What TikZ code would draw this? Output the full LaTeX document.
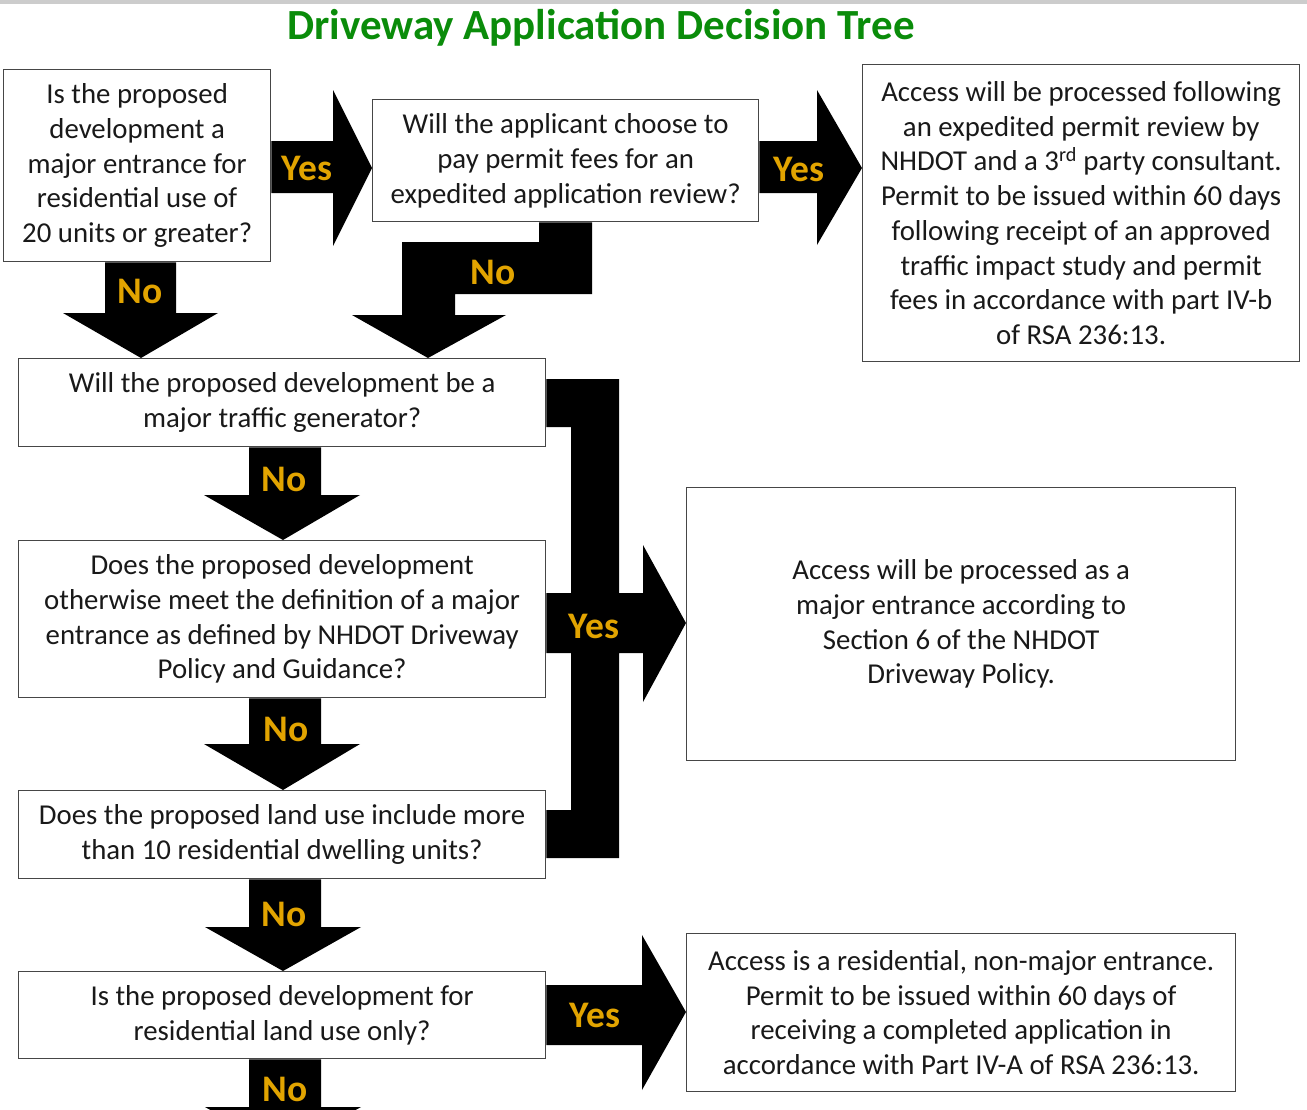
\documentclass[tikz,border=0pt]{standalone}
\usepackage{fontspec}
\setmainfont{Carlito}
\definecolor{titlegreen}{RGB}{10,140,10}
\definecolor{labelgold}{RGB}{226,164,0}
\definecolor{boxline}{RGB}{70,70,70}
\tikzset{
  box/.style={draw=boxline, line width=1.3pt, fill=white, anchor=north west, align=center,
    inner sep=2pt, font=\fontsize{28.8}{34.7}\selectfont, text=black!90},
  blockarrow/.style={fill=black},
  lbl/.style={font=\bfseries\fontsize{37.5}{37.5}\selectfont, text=labelgold, inner sep=0pt}
}
\begin{document}
\begin{tikzpicture}[x=1pt,y=-1pt]
\useasboundingbox (0,0) rectangle (1307,1109);
\clip (0,0) rectangle (1307,1109);
\fill[black!20] (0,0) rectangle (1307,4);
\node[font=\bfseries\fontsize{43}{46}\selectfont, text=titlegreen] (title) at (601,28) {Driveway Application Decision Tree};

% boxes
\node[box, minimum width=267, minimum height=192] (A) at (3,69)
  {Is the proposed\\development a\\major entrance for\\residential use of\\20 units or greater?};
\node[box, minimum width=386, minimum height=122] (B) at (372,99)
  {Will the applicant choose to\\pay permit fees for an\\expedited application review?};
\node[box, minimum width=437, minimum height=297] (C) at (862,64)
  {Access will be processed following\\an expedited permit review by\\NHDOT and a 3\textsuperscript{rd} party consultant.\\Permit to be issued within 60 days\\following receipt of an approved\\traffic impact study and permit\\fees in accordance with part IV-b\\of RSA 236:13.};
\node[box, minimum width=527, minimum height=88] (D) at (18,358)
  {Will the proposed development be a\\major traffic generator?};
\node[box, minimum width=527, minimum height=157] (E) at (18,540)
  {Does the proposed development\\otherwise meet the definition of a major\\entrance as defined by NHDOT Driveway\\Policy and Guidance?};
\node[box, minimum width=549, minimum height=273] (F) at (686,487)
  {Access will be processed as a\\major entrance according to\\Section 6 of the NHDOT\\Driveway Policy.};
\node[box, minimum width=527, minimum height=88] (G) at (18,790)
  {Does the proposed land use include more\\than 10 residential dwelling units?};
\node[box, minimum width=527, minimum height=87] (H) at (18,971)
  {Is the proposed development for\\residential land use only?};
\node[box, minimum width=549, minimum height=158] (I) at (686,933)
  {Access is a residential, non-major entrance.\\Permit to be issued within 60 days of\\receiving a completed application in\\accordance with Part IV-A of RSA 236:13.};

% Yes A -> B
\fill[blockarrow] (A.east |- 0,141) -- (333,141) -- (333,90) -- (B.west |- 0,168)
  -- (333,246) -- (333,193) -- (A.east |- 0,193) -- cycle;
\node[lbl] (yAB) at (307,168) {Yes};
% Yes B -> C
\fill[blockarrow] (B.east |- 0,141) -- (817,141) -- (817,90) -- (C.west |- 0,168)
  -- (817,245) -- (817,193) -- (B.east |- 0,193) -- cycle;
\node[lbl] (yBC) at (799,169) {Yes};
% No A -> D
\fill[blockarrow] (105,0 |- A.south) -- (176,0 |- A.south) -- (176,313) -- (218,313)
  -- (141,0 |- D.north) -- (63,313) -- (105,313) -- cycle;
\node[lbl] (nAD) at (140,291) {No};
% No B -> D (bent)
\fill[blockarrow] (539,0 |- B.south) -- (592,0 |- B.south) -- (592,294) -- (455,294)
  -- (455,315) -- (506,315) -- (428,0 |- D.north) -- (352,315) -- (402,315)
  -- (402,242) -- (539,242) -- cycle;
\node[lbl] (nBD) at (493,272) {No};
% No D -> E
\fill[blockarrow] (249,0 |- D.south) -- (321,0 |- D.south) -- (321,495) -- (360,495)
  -- (283,0 |- E.north) -- (204,495) -- (249,495) -- cycle;
\node[lbl] (nDE) at (284,479) {No};
% No E -> G
\fill[blockarrow] (249,0 |- E.south) -- (321,0 |- E.south) -- (321,744) -- (360,744)
  -- (283,0 |- G.north) -- (204,744) -- (249,744) -- cycle;
\node[lbl] (nEG) at (286,729) {No};
% No G -> H
\fill[blockarrow] (249,0 |- G.south) -- (321,0 |- G.south) -- (321,927) -- (361,927)
  -- (283,0 |- H.north) -- (205,927) -- (249,927) -- cycle;
\node[lbl] (nGH) at (284,914) {No};
% No H -> (off page)
\coordinate (offpage) at (283,1150);
\fill[blockarrow] (249,0 |- H.south) -- (321,0 |- H.south) -- (321,1107) -- (361,1107)
  -- (offpage) -- (205,1107) -- (249,1107) -- cycle;
\node[lbl] (nH) at (285,1089) {No};
% Yes bracket D/E/G -> F
\fill[blockarrow] (D.east |- 0,379) -- (619,379) -- (619,593) -- (643,593) -- (643,545)
  -- (F.west |- 0,623) -- (643,702) -- (643,653) -- (619,653) -- (619,858)
  -- (G.east |- 0,858) -- (G.east |- 0,810) -- (571,810) -- (571,653)
  -- (E.east |- 0,653) -- (E.east |- 0,593) -- (571,593) -- (571,427)
  -- (D.east |- 0,427) -- cycle;
\node[lbl] (yF) at (594,626) {Yes};
% Yes H -> I
\fill[blockarrow] (H.east |- 0,985) -- (642,985) -- (642,935) -- (I.west |- 0,1012)
  -- (642,1090) -- (642,1045) -- (H.east |- 0,1045) -- cycle;
\node[lbl] (yHI) at (595,1015) {Yes};
\end{tikzpicture}
\end{document}
